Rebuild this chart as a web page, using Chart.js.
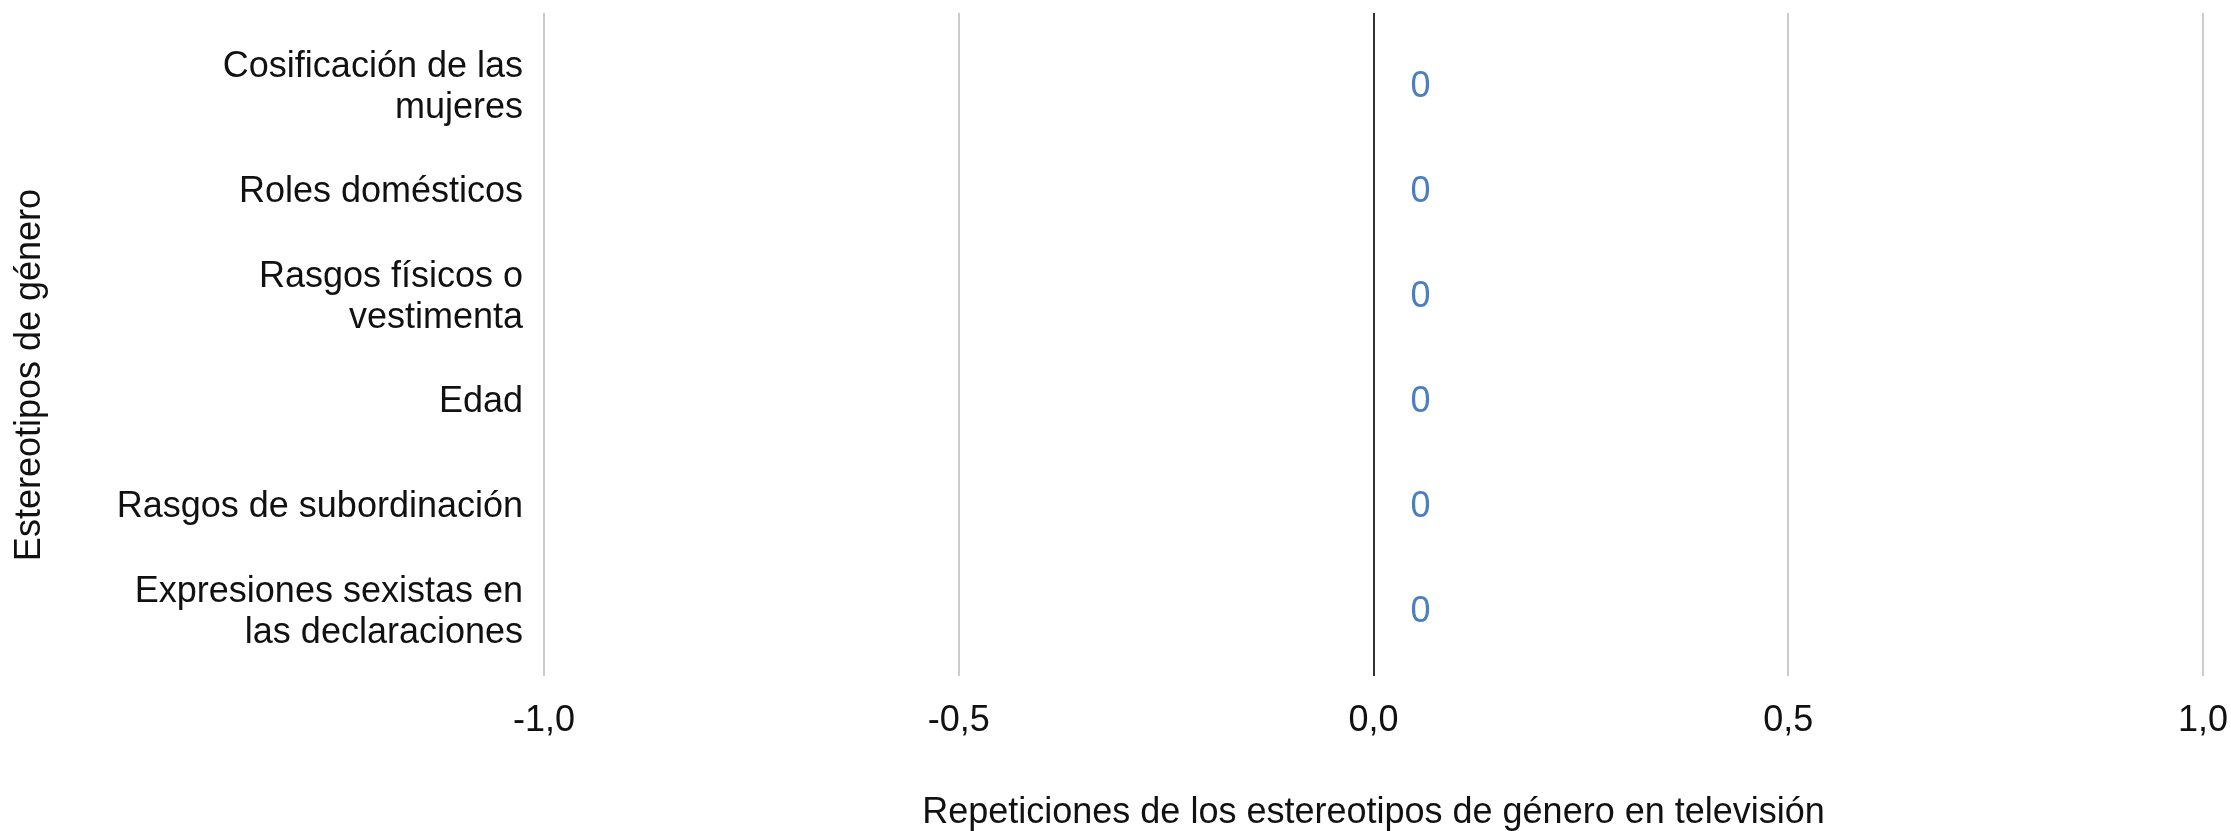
<!DOCTYPE html>
<html>
<head>
<meta charset="utf-8">
<script src="https://cdn.jsdelivr.net/npm/chart.js@4/dist/chart.umd.min.js"></script>
<style>
  html, body { margin: 0; padding: 0; background: #fff; }
  #chart { display: block; }
</style>
</head>
<body>
<canvas id="chart" width="2231" height="831"></canvas>
<script>
  const categories = [
    ['Cosificación de las', 'mujeres'],
    'Roles domésticos',
    ['Rasgos físicos o', 'vestimenta'],
    'Edad',
    'Rasgos de subordinación',
    ['Expresiones sexistas en', 'las declaraciones']
  ];
  const repetitions = [0, 0, 0, 0, 0, 0];
  const xTicks = [-1, -0.5, 0, 0.5, 1];

  const xTitle = 'Repeticiones de los estereotipos de género en televisión';
  const yTitle = 'Estereotipos de género';

  const barColor = '#4a7fc0';
  const gridColor = '#cccccc';
  const zeroColor = '#333333';
  const textColor = '#111111';

  Chart.defaults.font.family = '"Liberation Sans", Arial, sans-serif';
  Chart.defaults.font.size = 36;
  Chart.defaults.color = textColor;

  const gridLineColor = ctx => (ctx.tick && ctx.tick.value === 0 ? zeroColor : gridColor);
  const fmt = v => Number(v).toFixed(1).replace('.', ',');

  // writes the value next to each bar, like the "0" labels in the original
  const valueLabels = {
    id: 'valueLabels',
    afterDatasetsDraw(chart) {
      const ctx = chart.ctx;
      const meta = chart.getDatasetMeta(0);
      ctx.save();
      ctx.font = '36px "Liberation Sans", Arial, sans-serif';
      ctx.fillStyle = barColor;
      ctx.textAlign = 'left';
      ctx.textBaseline = 'middle';
      meta.data.forEach((bar, i) => {
        ctx.fillText(String(repetitions[i]), bar.x + 37, bar.y);
      });
      ctx.restore();
    }
  };

  new Chart(document.getElementById('chart'), {
    type: 'bar',
    data: {
      labels: categories,
      datasets: [{
        label: 'Repeticiones',
        data: repetitions,
        backgroundColor: barColor,
        borderWidth: 0
      }]
    },
    options: {
      indexAxis: 'y',
      responsive: false,
      devicePixelRatio: 1,
      animation: false,
      layout: { padding: { left: 0, right: 28, top: 13, bottom: 0 } },
      plugins: {
        legend: { display: false },
        tooltip: { enabled: false }
      },
      scales: {
        x: {
          type: 'linear',
          position: 'bottom',
          min: xTicks[0],
          max: xTicks[xTicks.length - 1],
          afterBuildTicks: s => { s.ticks = xTicks.map(v => ({ value: v })); },
          afterFit: s => {
            s.height = 166;
            s.paddingLeft = 0;
            s.paddingRight = 0;
          },
          border: { display: false },
          grid: {
            color: gridLineColor,
            lineWidth: 2,
            drawTicks: true,
            tickLength: 11
          },
          ticks: {
            padding: 23,
            color: textColor,
            callback: v => fmt(v)
          },
          title: {
            display: true,
            text: xTitle,
            color: textColor,
            font: { size: 36, lineHeight: 1.0 },
            padding: { top: 0, bottom: 0 }
          }
        },
        xTop: {
          type: 'linear',
          position: 'top',
          min: xTicks[0],
          max: xTicks[xTicks.length - 1],
          afterBuildTicks: s => { s.ticks = xTicks.map(v => ({ value: v })); },
          afterFit: s => {
            s.height = 22;
            s.paddingLeft = 0;
            s.paddingRight = 0;
          },
          border: { display: false },
          grid: {
            color: gridLineColor,
            lineWidth: 2,
            drawOnChartArea: false,
            drawTicks: true,
            tickLength: 22
          },
          ticks: { display: false }
        },
        y: {
          type: 'category',
          position: 'left',
          offset: true,
          afterFit: s => {
            s.width = 544;
            s.paddingTop = 0;
            s.paddingBottom = 0;
          },
          border: { display: false },
          grid: { display: false, drawTicks: false },
          ticks: {
            padding: 21,
            color: textColor,
            font: { size: 36, lineHeight: 1.15 }
          },
          title: {
            display: true,
            text: yTitle + '     ',
            color: textColor,
            font: { size: 36, lineHeight: 1.1 },
            padding: { top: 10, bottom: 0 }
          }
        }
      }
    },
    plugins: [valueLabels]
  });
</script>
</body>
</html>
